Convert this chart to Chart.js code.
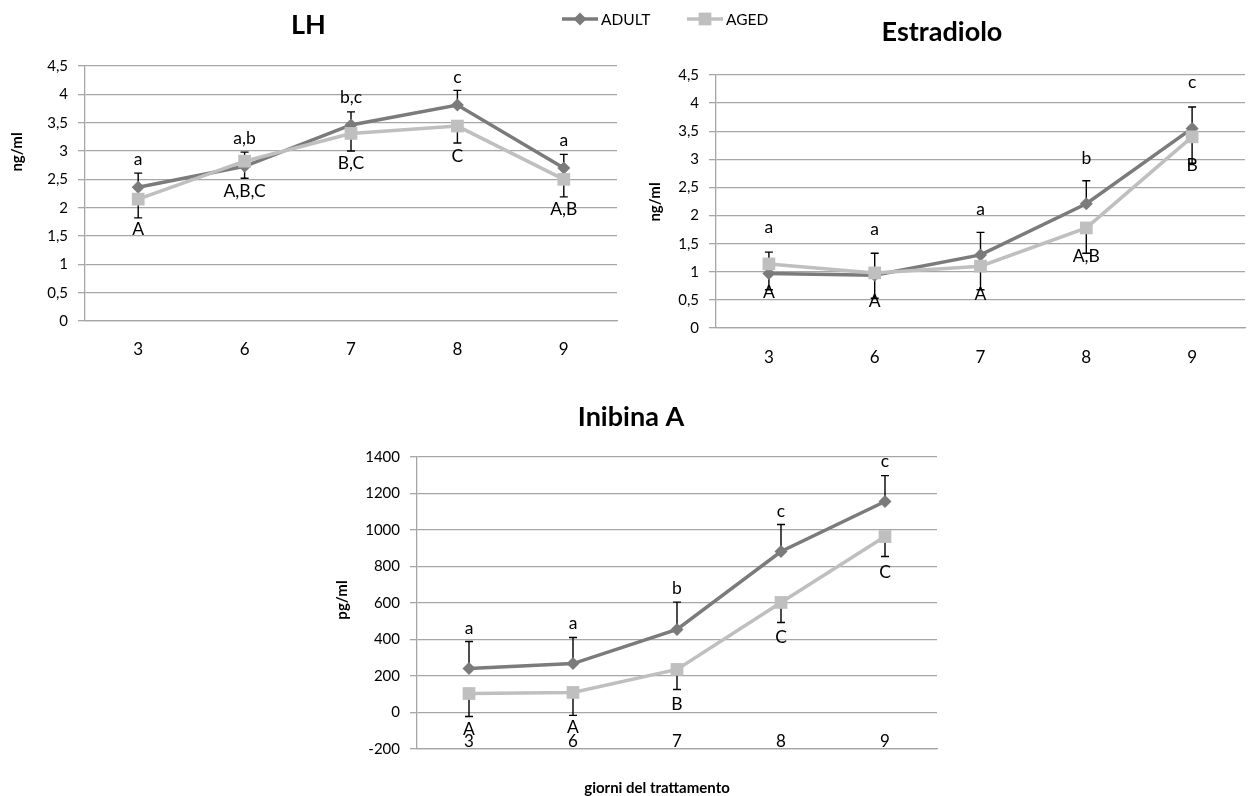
<!DOCTYPE html>
<html>
<head>
<meta charset="utf-8">
<title>LH, Estradiolo, Inibina A</title>
<script src="https://cdn.jsdelivr.net/npm/chart.js@4.4.1/dist/chart.umd.min.js"></script>
<style>
  body { margin: 0; background: #fff; }
  #wrap { position: relative; width: 1254px; height: 796px; overflow: hidden; }
  canvas { position: absolute; }
</style>
</head>
<body>
<div id="wrap">
  <canvas id="lh" width="800" height="370" style="left:0;top:0"></canvas>
  <canvas id="e2" width="618" height="370" style="left:636px;top:0"></canvas>
  <canvas id="inh" width="664" height="406" style="left:325px;top:390px"></canvas>
</div>
<script>
// giorni del trattamento
const days = ['3', '6', '7', '8', '9'];

// LH (ng/ml)
const lhAdult = [2.36, 2.73, 3.46, 3.81, 2.70];
const lhAged = [2.15, 2.82, 3.31, 3.44, 2.50];
const lhAdultErr = [0.25, 0.25, 0.23, 0.26, 0.24];
const lhAgedErr = [0.33, 0.30, 0.31, 0.30, 0.31];
const lhAdultLetters = ['a', 'a,b', 'b,c', 'c', 'a'];
const lhAgedLetters = ['A', 'A,B,C', 'B,C', 'C', 'A,B'];

// Estradiolo (ng/ml)
const e2Adult = [0.97, 0.94, 1.30, 2.21, 3.55];
const e2Aged = [1.14, 0.98, 1.10, 1.78, 3.40];
const e2AdultErr = [0.38, 0.39, 0.40, 0.41, 0.38];
const e2AgedErr = [0.46, 0.45, 0.42, 0.45, 0.47];
const e2AdultLetters = ['a', 'a', 'a', 'b', 'c'];
const e2AgedLetters = ['A', 'A', 'A', 'A,B', 'B'];

// Inibina A (pg/ml)
const inhAdult = [241, 268, 455, 882, 1156];
const inhAged = [104, 110, 236, 603, 964];
const inhAdultErr = [148, 143, 150, 148, 142];
const inhAgedErr = [126, 126, 110, 110, 109];
const inhAdultLetters = ['a', 'a', 'b', 'c', 'c'];
const inhAgedLetters = ['A', 'A', 'B', 'C', 'C'];

const ADULT_COLOR = '#7b7b7b';
const AGED_COLOR = '#bfbfbf';
const GRID = '#a6a6a6';

Chart.defaults.font.family = 'Lato, "Open Sans", sans-serif';
Chart.defaults.color = '#000';

const commaTick = v => String(v).replace('.', ',');

// error bars (ADULT up, AGED down) under the lines, letters on top
const marksPlugin = {
  id: 'marks',
  beforeDatasetsDraw(chart, args, opts) {
    const ctx = chart.ctx;
    const y = chart.scales.y;
    ctx.save();
    ctx.strokeStyle = '#000';
    ctx.lineWidth = 1.4;
    opts.err.forEach((errs, di) => {
      const vals = chart.data.datasets[di].data;
      const dir = di === 0 ? 1 : -1;
      chart.getDatasetMeta(di).data.forEach((pt, i) => {
        const yEnd = y.getPixelForValue(vals[i] + dir * errs[i]);
        ctx.beginPath();
        ctx.moveTo(pt.x, pt.y);
        ctx.lineTo(pt.x, yEnd);
        ctx.moveTo(pt.x - 4, yEnd);
        ctx.lineTo(pt.x + 4, yEnd);
        ctx.stroke();
      });
    });
    ctx.restore();
  },
  afterDatasetsDraw(chart, args, opts) {
    const ctx = chart.ctx;
    ctx.save();
    ctx.font = '17.5px Lato, sans-serif';
    ctx.fillStyle = '#000';
    ctx.textAlign = 'center';
    ctx.textBaseline = 'alphabetic';
    opts.letters.forEach((list, di) => {
      const shift = di === 0 ? -opts.above : opts.below;
      chart.getDatasetMeta(di).data.forEach((pt, i) => {
        ctx.fillText(list[i], pt.x, pt.y + shift);
      });
    });
    ctx.restore();
  }
};

// axis titles and the shared legend
const captionPlugin = {
  id: 'captions',
  afterDraw(chart, args, opts) {
    const ctx = chart.ctx;
    (opts.items || []).forEach(c => {
      ctx.save();
      ctx.font = 'bold 15px Lato, sans-serif';
      ctx.fillStyle = '#000';
      ctx.textAlign = 'center';
      ctx.textBaseline = 'middle';
      ctx.translate(c.x, c.y);
      ctx.rotate(c.rot || 0);
      ctx.fillText(c.text, 0, 0);
      ctx.restore();
    });
    if (opts.legend) {
      const lg = opts.legend;
      chart.data.datasets.forEach((ds, i) => {
        const x0 = lg.x[i];
        ctx.save();
        ctx.strokeStyle = ds.borderColor;
        ctx.fillStyle = ds.backgroundColor;
        ctx.lineWidth = ds.borderWidth;
        ctx.beginPath();
        ctx.moveTo(x0, lg.y);
        ctx.lineTo(x0 + lg.len, lg.y);
        ctx.stroke();
        Chart.helpers.drawPoint(ctx, { pointStyle: ds.pointStyle, radius: ds.pointRadius, rotation: 0, borderWidth: 0 }, x0 + lg.len / 2, lg.y);
        ctx.fillStyle = '#000';
        ctx.font = '15.5px Lato, sans-serif';
        ctx.textBaseline = 'middle';
        ctx.fillText(ds.label, x0 + lg.len + 3, lg.y + 1);
        ctx.restore();
      });
    }
  }
};

function buildChart(id, p) {
  return new Chart(document.getElementById(id), {
    type: 'line',
    data: {
      labels: days,
      datasets: [
        {
          label: 'ADULT', data: p.adult, order: 2,
          borderColor: ADULT_COLOR, backgroundColor: ADULT_COLOR, borderWidth: 3.5,
          pointStyle: 'rectRot', pointRadius: 6.5, pointBorderWidth: 0, tension: 0
        },
        {
          label: 'AGED', data: p.aged, order: 1,
          borderColor: AGED_COLOR, backgroundColor: AGED_COLOR, borderWidth: 3.5,
          pointStyle: 'rect', pointRadius: 9, pointBorderWidth: 0, tension: 0
        }
      ]
    },
    options: {
      responsive: false,
      animation: false,
      devicePixelRatio: 1,
      layout: { padding: { left: 0, right: p.padRight, top: 0, bottom: 0 } },
      plugins: {
        legend: { display: false },
        tooltip: { enabled: false },
        title: {
          display: true, text: p.title, color: '#000',
          font: { size: 27, weight: 'bold' }, padding: p.titlePad
        },
        marks: { err: p.err, letters: p.letters, above: p.above, below: p.below },
        captions: { items: p.captions, legend: p.legend }
      },
      scales: {
        x: {
          offset: true,
          grid: { display: false, drawTicks: false },
          border: { color: GRID, width: 1.3 },
          ticks: { padding: p.xPad, mirror: !!p.xInside, font: { size: 17 } },
          afterFit: s => { s.height = p.xHeight; }
        },
        y: {
          min: p.min, max: p.max,
          ticks: { stepSize: p.step, padding: 10, font: { size: 15 }, callback: commaTick },
          grid: { color: GRID, lineWidth: 1.3, tickLength: 7 },
          border: { color: GRID, width: 1.3 },
          afterFit: s => { s.width = p.yWidth; }
        }
      }
    },
    plugins: [marksPlugin, captionPlugin]
  });
}

buildChart('lh', {
  title: 'LH', adult: lhAdult, aged: lhAged,
  err: [lhAdultErr, lhAgedErr], letters: [lhAdultLetters, lhAgedLetters],
  above: 22, below: 36,
  min: 0, max: 4.5, step: 0.5,
  padRight: 183, yWidth: 85, xHeight: 49, xPad: 18,
  titlePad: { top: 8.8, bottom: 24.8 },
  captions: [{ text: 'ng/ml', x: 17, y: 152, rot: -Math.PI / 2 }],
  legend: { x: [562, 687], y: 19, len: 36 }
});

buildChart('e2', {
  title: 'Estradiolo', adult: e2Adult, aged: e2Aged,
  err: [e2AdultErr, e2AgedErr], letters: [e2AdultLetters, e2AgedLetters],
  above: 40, below: 34,
  min: 0, max: 4.5, step: 0.5,
  padRight: 6, yWidth: 80, xHeight: 42, xPad: 19,
  titlePad: { top: 15.8, bottom: 26.8 },
  captions: [{ text: 'ng/ml', x: 19, y: 202, rot: -Math.PI / 2 }]
});

buildChart('inh', {
  title: 'Inibina A', adult: inhAdult, aged: inhAged,
  err: [inhAdultErr, inhAgedErr], letters: [inhAdultLetters, inhAgedLetters],
  above: 35, below: 41,
  min: -200, max: 1400, step: 200,
  padRight: 52, yWidth: 92, xHeight: 47, xPad: -3, xInside: true,
  titlePad: { top: 10.8, bottom: 23.8 },
  captions: [
    { text: 'pg/ml', x: 17, y: 210, rot: -Math.PI / 2 },
    { text: 'giorni del trattamento', x: 332, y: 398 }
  ]
});
</script>
</body>
</html>
